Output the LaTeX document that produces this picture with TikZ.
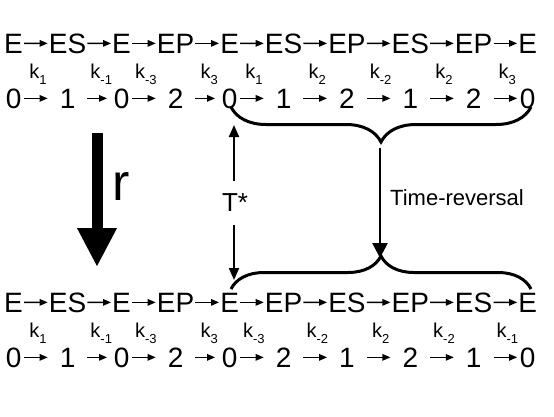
\documentclass[tikz,border=0pt]{standalone}
\usepackage{fontspec}
\setmainfont{Liberation Sans}
\usetikzlibrary{arrows.meta,positioning,calc,decorations.pathreplacing}
\newcommand\kk[1]{k\raisebox{-0.3em}{\fontsize{13}{13}\selectfont #1}}
\begin{document}
\begin{tikzpicture}[x=1pt,y=-1pt,
  sp/.style={inner sep=0pt, font=\fontsize{28}{30}\selectfont},
  num/.style={inner sep=0pt, anchor=base, font=\fontsize{28}{30}\selectfont},
  klab/.style={inner sep=0pt, anchor=base, font=\fontsize{20}{22}\selectfont},
  sarrow/.style={line width=1.3pt, -{Triangle[width=6.5pt,length=8pt]}, shorten <=1pt, shorten >=1pt},
  bracestyle/.style={line width=3pt, decorate, decoration={brace, amplitude=#1}},
  trarrow/.style={line width=2.7pt, -{Triangle[width=15pt,length=15pt]}},
  tstar/.style={line width=2pt, {Triangle[width=10pt,length=12pt]}-{Triangle[width=10pt,length=12pt]}},
  bigarrow/.style={line width=11pt, -{Triangle[width=37pt,length=39pt]}}
]
\useasboundingbox (0,0) rectangle (554,416);
\def\gap{25.6pt}
% top species row
\node[sp, anchor=base west] (t1) at (4,53) {E};
\node[sp, base right=\gap of t1] (t2) {ES};
\node[sp, base right=\gap of t2] (t3) {E};
\node[sp, base right=\gap of t3] (t4) {EP};
\node[sp, base right=\gap of t4] (t5) {E};
\node[sp, base right=\gap of t5] (t6) {ES};
\node[sp, base right=\gap of t6] (t7) {EP};
\node[sp, base right=\gap of t7] (t8) {ES};
\node[sp, base right=\gap of t8] (t9) {EP};
\node[sp, base right=\gap of t9] (t10) {E};
% bottom species row
\node[sp, anchor=base west] (b1) at (4,312) {E};
\node[sp, base right=\gap of b1] (b2) {ES};
\node[sp, base right=\gap of b2] (b3) {E};
\node[sp, base right=\gap of b3] (b4) {EP};
\node[sp, base right=\gap of b4] (b5) {E};
\node[sp, base right=\gap of b5] (b6) {EP};
\node[sp, base right=\gap of b6] (b7) {ES};
\node[sp, base right=\gap of b7] (b8) {EP};
\node[sp, base right=\gap of b8] (b9) {ES};
\node[sp, base right=\gap of b9] (b10) {E};
% numbers
\foreach \i/\v in {1/0,2/1,3/0,4/2,5/0,6/1,7/2,8/1,9/2,10/0}
  \node[num] (tn\i) at ($(t\i.base)+(0,55)$) {\v};
\foreach \i/\v in {1/0,2/1,3/0,4/2,5/0,6/2,7/1,8/2,9/1,10/0}
  \node[num] (bn\i) at ($(b\i.base)+(0,55)$) {\v};
% rate constants
\foreach \i/\j/\v in {1/2/1,2/3/-1,3/4/-3,4/5/3,5/6/1,6/7/2,7/8/-2,8/9/2,9/10/3}
  \node[klab] (tk\i) at ($(t\i.base east)!.5!(t\j.base west)+(2,25)$) {\kk{\v}};
\foreach \i/\j/\v in {1/2/1,2/3/-1,3/4/-3,4/5/3,5/6/-3,6/7/-2,7/8/2,8/9/-2,9/10/-1}
  \node[klab] (bk\i) at ($(b\i.base east)!.5!(b\j.base west)+(2,25)$) {\kk{\v}};
% arrows
\foreach \i/\j/\s in {1/2/1,2/3/5,3/4/1,4/5/5,5/6/1,6/7/1,7/8/1,8/9/1,9/10/1}{
  \draw[sarrow] (t\i) -- (t\j);
  \draw[sarrow] (b\i) -- (b\j);
  \draw[sarrow, shorten >=\s pt] (t\i.east |- tn1.center) -- (t\j.west |- tn1.center);
  \draw[sarrow, shorten >=\s pt] (b\i.east |- bn1.center) -- (b\j.west |- bn1.center);
}
% braces
\coordinate (tbL) at (231,107);
\coordinate (tbR) at (531,107);
\coordinate (ttip) at (381,142);
\coordinate (bbL) at (231,289);
\coordinate (bbR) at (531,289);
\coordinate (btip) at (381,256);
\draw[bracestyle=35pt] (tbR) -- (tbL);
\draw[bracestyle=33pt] (bbL) -- (bbR);
\draw[trarrow] ($(ttip)+(-1,6)$) -- ($(btip)+(-1,2)$);
\node[anchor=west, inner sep=0pt, font=\fontsize{22}{24}\selectfont] (tr) at (390,198) {Time-reversal};
% T*
\coordinate (ts) at (234,125);
\coordinate (te) at (234,280);
\draw[tstar] (ts) -- (te);
\node[fill=white, inner xsep=2pt, inner ysep=13pt, font=\fontsize{26}{28}\selectfont] (tlab) at (235,203) {T*};
% r arrow
\coordinate (ra) at (97,133);
\coordinate (rb) at (97,267);
\draw[bigarrow] (ra) -- (rb);
\node[font=\fontsize{52}{54}\selectfont, inner sep=0pt, anchor=base west] (r) at (112,200) {r};
\end{tikzpicture}
\end{document}
